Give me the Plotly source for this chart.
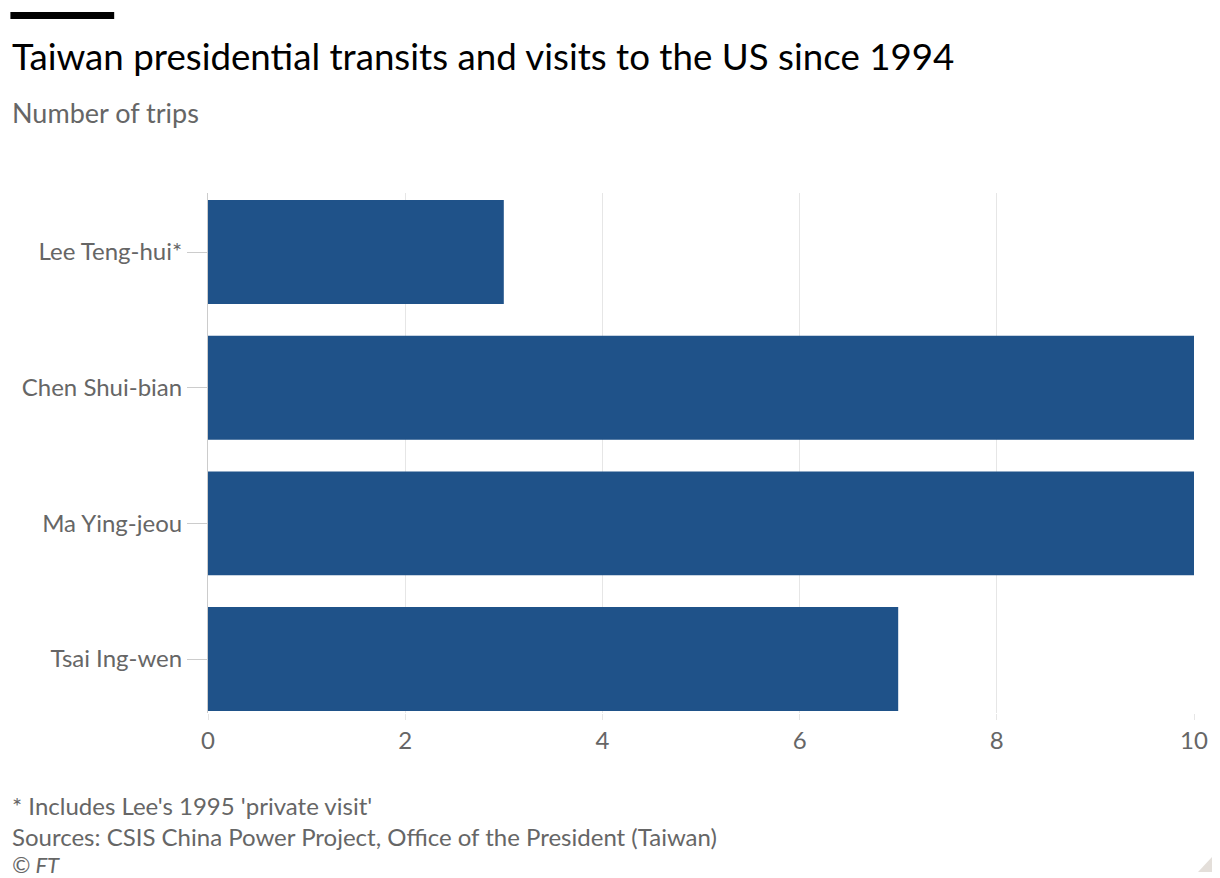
import plotly.graph_objects as go

# Data
presidents = ["Lee Teng-hui*", "Chen Shui-bian", "Ma Ying-jeou", "Tsai Ing-wen"]
trips = [3, 10, 10, 7]
x_ticks = [0, 2, 4, 6, 8, 10]

title = "Taiwan presidential transits and visits to the US since 1994"
subtitle = "Number of trips"
note = "* Includes Lee's 1995 'private visit'"
source = "Sources: CSIS China Power Project, Office of the President (Taiwan)"
credit = "© FT"

# The page has an 8px body margin; figure pixel = screen pixel - 8
OFF = 8
W, H = 1220 - OFF, 878 - OFF
L, R, T, B = 208 - OFF, 24, 193 - OFF, 165
PW, PH = W - L - R, H - T - B
FONT = "Lato"
BAR = "#1f5289"
GREY = "#666666"


def px(x):
    return (x - OFF - L) / PW


def py(y):
    return (H - B - (y - OFF)) / PH


fig = go.Figure(
    go.Bar(
        x=trips,
        y=presidents,
        orientation="h",
        marker=dict(color=BAR, line=dict(width=0)),
        hoverinfo="x+y",
    )
)

fig.update_layout(
    width=W,
    height=H,
    margin=dict(l=L, r=R, t=T, b=B),
    paper_bgcolor="white",
    plot_bgcolor="white",
    bargap=0.234,
    showlegend=False,
    font=dict(family=FONT, color=GREY, size=24),
    xaxis=dict(
        range=[0, 10],
        tickvals=x_ticks,
        showgrid=True,
        gridcolor="#e6e6e6",
        gridwidth=1,
        zeroline=False,
        showline=False,
        ticks="outside",
        ticklen=6,
        tickcolor="#e6e6e6",
        tickfont=dict(size=24, color=GREY),
        fixedrange=True,
    ),
    yaxis=dict(
        categoryorder="array",
        categoryarray=presidents,
        range=[3.398, -0.435],
        showgrid=False,
        zeroline=False,
        showline=True,
        linecolor="#cccccc",
        linewidth=1,
        ticks="outside",
        ticklen=20,
        tickcolor="#cccccc",
        tickfont=dict(size=24, color=GREY),
        fixedrange=True,
    ),
)

annotations = [
    dict(text=title, x=px(10), y=py(56), font=dict(size=36.7, color="#000000")),
    dict(text=subtitle, x=px(10), y=py(112), font=dict(size=27, color=GREY)),
    dict(text=note, x=px(10), y=py(805), font=dict(size=24, color=GREY)),
    dict(text=source, x=px(10), y=py(836), font=dict(size=24, color=GREY)),
    dict(text="<i>" + credit + "</i>", x=px(10), y=py(864), font=dict(size=22, color=GREY)),
]
for a in annotations:
    a.update(xref="paper", yref="paper", xanchor="left", yanchor="middle", showarrow=False)
fig.update_layout(annotations=annotations)

fig.add_shape(
    type="rect", xref="paper", yref="paper",
    x0=px(10), x1=px(114), y0=py(12), y1=py(19),
    fillcolor="#000000", line=dict(width=0), layer="above",
)
fig.add_shape(
    type="path", xref="paper", yref="paper",
    path=f"M {px(1216)} {py(855)} L {px(1216)} {py(872)} L {px(1200)} {py(872)} Z",
    fillcolor="#e4dfda", line=dict(width=0), layer="above",
)

fig.write_html("out.html")
